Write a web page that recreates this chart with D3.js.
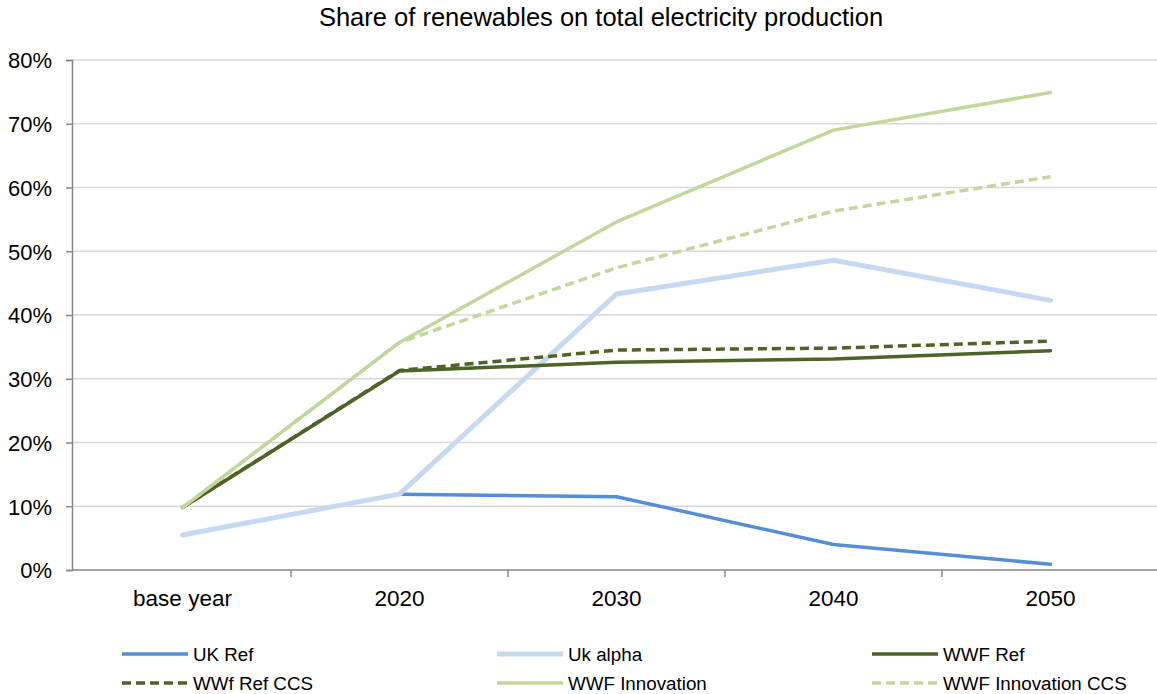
<!DOCTYPE html>
<html>
<head>
<meta charset="utf-8">
<script src="https://cdn.jsdelivr.net/npm/d3@7"></script>
<style>
  html, body { margin: 0; padding: 0; background: #fff; }
  svg { display: block; font-family: "Liberation Sans", Arial, sans-serif; }
</style>
</head>
<body>
<svg id="chart" width="1157" height="694"></svg>
<script>
// Categories on the horizontal axis
const categories = ["base year", "2020", "2030", "2040", "2050"];

// Share of renewables (fraction of total electricity production)
const ukRef            = [0.055, 0.119, 0.115, 0.040, 0.009];
const ukAlpha          = [0.055, 0.119, 0.433, 0.486, 0.423];
const wwfRef           = [0.098, 0.312, 0.326, 0.331, 0.344];
const wwfRefCcs        = [0.098, 0.313, 0.345, 0.348, 0.359];
const wwfInnovation    = [0.098, 0.357, 0.546, 0.690, 0.749];
const wwfInnovationCcs = [0.098, 0.357, 0.474, 0.563, 0.617];

const seriesNames = ["UK Ref", "Uk alpha", "WWF Ref", "WWf Ref CCS", "WWF Innovation", "WWF Innovation CCS"];

// Value-axis ticks
const yTicks = [0, 0.1, 0.2, 0.3, 0.4, 0.5, 0.6, 0.7, 0.8];

const title = "Share of renewables on total electricity production";

// Styling per series
const styles = [
  { color: "#558ed5", width: 3.5, dash: null },
  { color: "#c6d9f1", width: 5,   dash: null },
  { color: "#4f6228", width: 3.5, dash: null },
  { color: "#4f6228", width: 3.5, dash: "9,5" },
  { color: "#c3d69b", width: 3.5, dash: null },
  { color: "#c3d69b", width: 3.5, dash: "9,5" }
];

const seriesValues = [ukRef, ukAlpha, wwfRef, wwfRefCcs, wwfInnovation, wwfInnovationCcs];
const series = seriesNames.map((name, i) => ({ name, values: seriesValues[i], style: styles[i] }));

const svg = d3.select("#chart");
const W = 1157;

const plot = { left: 72, right: 1159, top: 60, bottom: 570 };

const x = d3.scaleBand().domain(categories).range([74, 1159]).paddingInner(0).paddingOuter(0);
const y = d3.scaleLinear().domain([0, 0.8]).range([plot.bottom, plot.top]);

// Title
svg.append("text")
  .attr("x", 601).attr("y", 26)
  .attr("text-anchor", "middle")
  .attr("font-size", "25.5px")
  .attr("fill", "#000")
  .text(title);

// Horizontal gridlines
svg.append("g")
  .selectAll("line")
  .data(yTicks.filter(d => d > 0))
  .join("line")
  .attr("x1", plot.left).attr("x2", W)
  .attr("y1", d => y(d)).attr("y2", d => y(d))
  .attr("stroke", "#d9d9d9")
  .attr("stroke-width", 1.5);

// Y axis
const yAxis = svg.append("g")
  .attr("transform", `translate(${plot.left},0)`)
  .call(d3.axisLeft(y).tickValues(yTicks).tickFormat(d3.format(".0%")).tickSize(6).tickPadding(14));
yAxis.select(".domain").attr("stroke", "#868686").attr("stroke-width", 1.5);
yAxis.selectAll(".tick line").attr("stroke", "#868686").attr("stroke-width", 1.5);
yAxis.selectAll(".tick text")
  .attr("font-size", "22px")
  .attr("font-family", "Liberation Sans, Arial, sans-serif")
  .attr("fill", "#000")
  .attr("dy", "0.36em");

// X axis: baseline, tick marks at category boundaries, labels at centres
const xg = svg.append("g");
xg.append("line")
  .attr("x1", plot.left).attr("x2", W)
  .attr("y1", plot.bottom).attr("y2", plot.bottom)
  .attr("stroke", "#868686").attr("stroke-width", 1.5);
const boundaries = categories.slice(1).map(c => x(c));
xg.selectAll("line.tick")
  .data(boundaries)
  .join("line")
  .attr("class", "tick")
  .attr("x1", d => d).attr("x2", d => d)
  .attr("y1", plot.bottom).attr("y2", plot.bottom + 7)
  .attr("stroke", "#868686").attr("stroke-width", 1.5);
xg.selectAll("text")
  .data(categories)
  .join("text")
  .attr("x", d => x(d) + x.bandwidth() / 2)
  .attr("y", 606)
  .attr("text-anchor", "middle")
  .attr("font-size", "22.5px")
  .attr("fill", "#000")
  .text(d => d);

// Lines
const line = d3.line()
  .x((d, i) => x(categories[i]) + x.bandwidth() / 2)
  .y(d => y(d));

svg.append("g")
  .selectAll("path")
  .data(series)
  .join("path")
  .attr("d", d => line(d.values))
  .attr("fill", "none")
  .attr("stroke", d => d.style.color)
  .attr("stroke-width", d => d.style.width)
  .attr("stroke-dasharray", d => d.style.dash)
  .attr("stroke-linejoin", "round")
  .attr("stroke-linecap", d => d.style.dash ? "butt" : "round");

// Legend: three columns, two rows
const legend = svg.append("g");
const colX = [122, 497, 872];
const rowY = [654, 683];
const items = legend.selectAll("g")
  .data(series)
  .join("g")
  .attr("transform", (d, i) => `translate(${colX[i % 3]},${rowY[Math.floor(i / 3)]})`);
items.append("line")
  .attr("x1", 0).attr("x2", 66)
  .attr("y1", 0).attr("y2", 0)
  .attr("stroke", d => d.style.color)
  .attr("stroke-width", d => d.style.width)
  .attr("stroke-dasharray", d => d.style.dash);
items.append("text")
  .attr("x", 71)
  .attr("y", 0)
  .attr("dy", "0.36em")
  .attr("font-size", "18.8px")
  .attr("fill", "#000")
  .text(d => d.name);
</script>
</body>
</html>
